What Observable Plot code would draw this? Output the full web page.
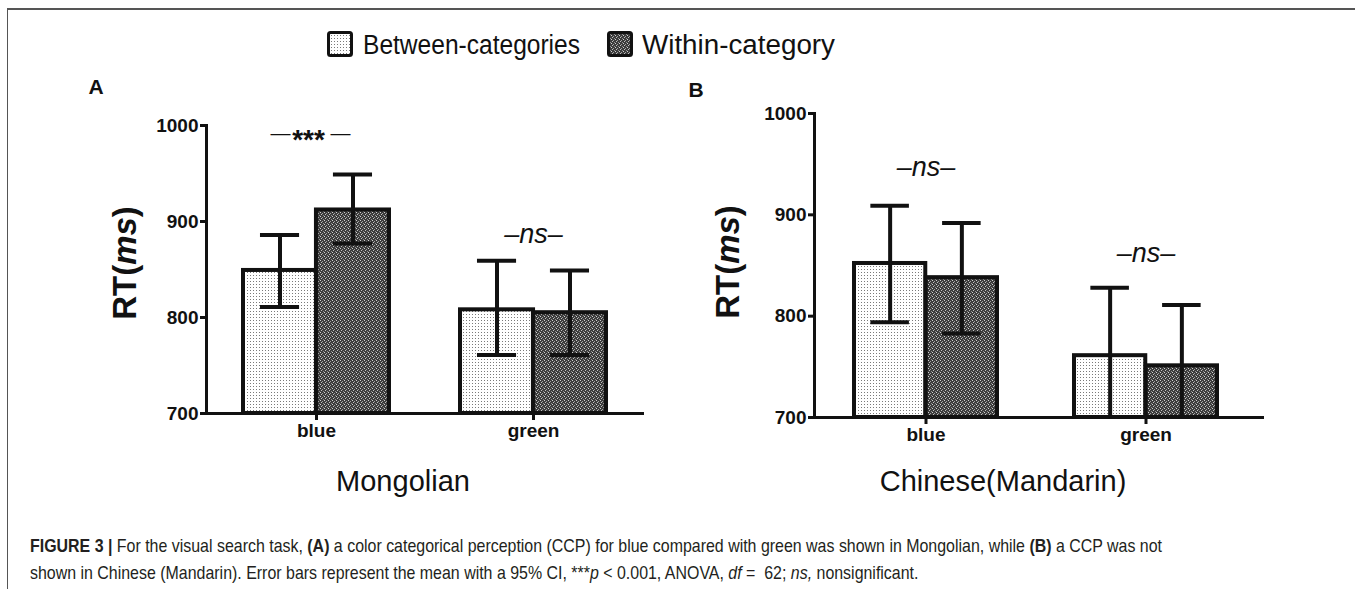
<!DOCTYPE html>
<html>
<head>
<meta charset="utf-8">
<script src="https://cdn.jsdelivr.net/npm/d3@7"></script>
<script src="https://cdn.jsdelivr.net/npm/@observablehq/plot@0.6"></script>
<style>
  html, body { margin: 0; padding: 0; background: #fff; }
  #fig { position: relative; width: 1355px; height: 589px; overflow: hidden;
         font-family: "Liberation Sans", Arial, sans-serif; color: #111; }
  #borderTop { position: absolute; left: 7px; top: 8px; width: 1360px; height: 0; border-top: 2px solid #555; }
  #borderLeft { position: absolute; left: 7px; top: 8px; width: 0; height: 600px; border-left: 1.5px solid #555; }
  .abs { position: absolute; white-space: nowrap; }
  .legtxt { font-size: 27px; line-height: 27px; color: #111; transform-origin: 0 50%; }
  .ytitle { font-size: 33px; font-weight: bold; transform: translate(-50%, -50%) rotate(-90deg); line-height: 33px; }
  .xtitle { font-size: 29px; transform: translate(-50%, -50%); line-height: 29px; }
  .letter { font-size: 21px; font-weight: bold; transform: translate(-50%, -50%); line-height: 21px; }
  .cap { font-size: 18.5px; line-height: 18.5px; color: #231f20; transform-origin: 0 50%; }
  .plotbox { position: absolute; top: 100px; }
</style>
</head>
<body>
<div id="fig">
  <svg width="0" height="0" style="position:absolute">
    <defs>
      <pattern id="pBetween" width="3" height="3" patternUnits="userSpaceOnUse">
        <rect width="3" height="3" fill="#ffffff"/>
        <rect x="1" y="1" width="1" height="1" fill="#7a7a7a"/>
      </pattern>
      <pattern id="pWithin" width="4" height="4" patternUnits="userSpaceOnUse">
        <rect width="4" height="4" fill="#3c3c3c"/>
        <rect x="0" y="0" width="1" height="1" fill="#d0d0d0"/>
        <rect x="2" y="1" width="1" height="1" fill="#a0a0a0"/>
        <rect x="1" y="2" width="1" height="1" fill="#c0c0c0"/>
        <rect x="3" y="3" width="1" height="1" fill="#909090"/>
      </pattern>
    </defs>
  </svg>
  <div id="borderTop"></div>
  <div id="borderLeft"></div>
  <div id="legend"></div>
  <div id="plotA" class="plotbox" style="left:0px"></div>
  <div id="plotB" class="plotbox" style="left:680px"></div>
  <div id="labels"></div>
  <div id="caption"></div>
</div>
<script>
// ---------- data ----------
const categories = ["blue", "green"];
const series = ["Between-categories", "Within-category"];
const yTicks = [700, 800, 900, 1000];

// Panel A: Mongolian
const aBetweenMean = [849, 808];
const aBetweenLow  = [811, 761];
const aBetweenHigh = [886, 859];
const aWithinMean  = [912, 805];
const aWithinLow   = [877, 761];
const aWithinHigh  = [949, 849];
const aSig  = ["***", "ns"];
const aSigY = [992, 887];

// Panel B: Chinese (Mandarin)
const bBetweenMean = [852, 761];
const bBetweenLow  = [794, 694];
const bBetweenHigh = [909, 828];
const bWithinMean  = [838, 751];
const bWithinLow   = [783, 691];
const bWithinHigh  = [892, 811];
const bSig  = ["ns", "ns"];
const bSigY = [947, 862];

const panelLetters = ["A", "B"];
const panelTitles = ["Mongolian", "Chinese(Mandarin)"];
const captionLines = [
  '<b>FIGURE 3 |</b> For the visual search task, <b>(A)</b> a color categorical perception (CCP) for blue compared with green was shown in Mongolian, while <b>(B)</b> a CCP was not',
  'shown in Chinese (Mandarin). Error bars represent the mean with a 95% CI, ***<i>p</i> &lt; 0.001, ANOVA, <i>df</i> =&nbsp; 62; <i>ns,</i> nonsignificant.'
];

// ---------- panels ----------
function panel(o) {
  const bw = d3.scaleBand().domain(categories).range([o.ml, o.w - o.mr])
    .paddingInner(o.pi).paddingOuter(o.po).align(o.al).bandwidth();
  const B = categories.map((c, i) => ({cat: c, m: o.bm[i], lo: o.bl[i], hi: o.bh[i]}));
  const W = categories.map((c, i) => ({cat: c, m: o.wm[i], lo: o.wl[i], hi: o.wh[i]}));
  const sig = categories.map((c, i) => ({cat: c, label: o.sig[i], y: o.sigY[i]}));
  const stars = sig.filter(d => d.label !== "ns");
  const half = 19.5;
  const ink = "#111";
  const sw = 4;
  return Plot.plot({
    width: o.w, height: o.h,
    marginLeft: o.ml, marginRight: o.mr, marginTop: o.mt, marginBottom: o.mb,
    x: {domain: categories, paddingInner: o.pi, paddingOuter: o.po, align: o.al},
    y: {domain: [700, 1000]},
    style: {fontFamily: '"Liberation Sans", Arial, sans-serif', color: ink, background: "transparent", overflow: "visible"},
    marks: [
      Plot.barY(B, {x: "cat", y1: 700, y2: "m", insetRight: bw / 2, fill: "url(#pBetween)", stroke: ink, strokeWidth: sw}),
      Plot.barY(W, {x: "cat", y1: 700, y2: "m", insetLeft: bw / 2, fill: "url(#pWithin)", stroke: ink, strokeWidth: sw}),
      Plot.ruleX(B, {x: "cat", y1: "lo", y2: "hi", dx: -bw / 4, stroke: ink, strokeWidth: sw, clip: true}),
      Plot.ruleX(W, {x: "cat", y1: "lo", y2: "hi", dx: bw / 4, stroke: ink, strokeWidth: sw, clip: true}),
      Plot.tickY(B, {x: "cat", y: "hi", insetLeft: bw / 4 - half, insetRight: 3 * bw / 4 - half, stroke: ink, strokeWidth: sw, clip: true}),
      Plot.tickY(B, {x: "cat", y: "lo", insetLeft: bw / 4 - half, insetRight: 3 * bw / 4 - half, stroke: ink, strokeWidth: sw, clip: true}),
      Plot.tickY(W, {x: "cat", y: "hi", insetLeft: 3 * bw / 4 - half, insetRight: bw / 4 - half, stroke: ink, strokeWidth: sw, clip: true}),
      Plot.tickY(W, {x: "cat", y: "lo", insetLeft: 3 * bw / 4 - half, insetRight: bw / 4 - half, stroke: ink, strokeWidth: sw, clip: true}),
      Plot.frame({anchor: "left", stroke: ink, strokeWidth: 3}),
      Plot.frame({anchor: "bottom", stroke: ink, strokeWidth: 3}),
      Plot.axisY({ticks: yTicks, tickSize: 6, tickPadding: 2, stroke: ink, strokeWidth: 3, fill: ink, fontSize: 19, fontWeight: "bold", label: null, tickFormat: d => String(d)}),
      Plot.axisX({tickSize: 7, tickPadding: 3, stroke: ink, strokeWidth: 3, fill: ink, fontSize: 19, fontWeight: "bold", label: null}),
      Plot.text(sig.filter(d => d.label === "ns"), {x: "cat", y: "y", text: d => "\u2013" + d.label + "\u2013", fontSize: 27, fontStyle: "italic", fill: ink}),
      Plot.text(stars, {x: "cat", y: "y", text: "label", fontSize: 28, fontWeight: "bold", dx: -8, dy: 7, fill: ink}),
      Plot.text(stars, {x: "cat", y: "y", text: () => "\u2014", fontSize: 20, dx: -36, fill: ink}),
      Plot.text(stars, {x: "cat", y: "y", text: () => "\u2014", fontSize: 20, dx: 24, fill: ink})
    ]
  });
}

document.getElementById("plotA").appendChild(panel({
  w: 680, h: 360, ml: 206, mr: 38, mt: 25, mb: 47, pi: 0.328, po: 0.168, al: 0.5,
  bm: aBetweenMean, bl: aBetweenLow, bh: aBetweenHigh,
  wm: aWithinMean, wl: aWithinLow, wh: aWithinHigh, sig: aSig, sigY: aSigY
}));
document.getElementById("plotB").appendChild(panel({
  w: 675, h: 360, ml: 134, mr: 93, mt: 13, mb: 43, pi: 0.35, po: 0.19, al: 0.47,
  bm: bBetweenMean, bl: bBetweenLow, bh: bBetweenHigh,
  wm: bWithinMean, wl: bWithinLow, wh: bWithinHigh, sig: bSig, sigY: bSigY
}));

// ---------- legend ----------
const legend = document.getElementById("legend");
const legendPos = [{box: 327, txt: 363, w: 217}, {box: 607, txt: 642, w: 193}];
const legendFill = ["url(#pBetween)", "url(#pWithin)"];
series.forEach((s, i) => {
  const b = document.createElementNS("http://www.w3.org/2000/svg", "svg");
  b.setAttribute("width", 26); b.setAttribute("height", 26);
  b.style.position = "absolute"; b.style.left = legendPos[i].box + "px"; b.style.top = "31px";
  b.innerHTML = `<rect x="1.5" y="1.5" width="23" height="23" rx="2" fill="${legendFill[i]}" stroke="#111" stroke-width="3"/>`;
  legend.appendChild(b);
  const t = document.createElement("span");
  t.className = "abs legtxt";
  t.style.left = legendPos[i].txt + "px"; t.style.top = (45 - 13.5) + "px";
  t.textContent = s;
  legend.appendChild(t);
  const tw = t.getBoundingClientRect().width;
  t.style.transform = `scaleX(${legendPos[i].w / tw})`;
});

// ---------- labels ----------
const labels = document.getElementById("labels");
function addLabel(cls, x, y, html) {
  const d = document.createElement("div");
  d.className = "abs " + cls;
  d.style.left = x + "px"; d.style.top = y + "px";
  d.innerHTML = html;
  labels.appendChild(d);
}
addLabel("letter", 96, 86, panelLetters[0]);
addLabel("letter", 696, 89, panelLetters[1]);
addLabel("ytitle", 124, 263, 'RT(<i>ms</i>)');
addLabel("ytitle", 727, 262, 'RT(<i>ms</i>)');
addLabel("xtitle", 403, 481, panelTitles[0]);
addLabel("xtitle", 1003, 481, panelTitles[1]);

// ---------- caption ----------
const cap = document.getElementById("caption");
const capY = [546, 573];
const spans = captionLines.map((html, i) => {
  const s = document.createElement("span");
  s.className = "abs cap";
  s.style.left = "30px"; s.style.top = (capY[i] - 9.25) + "px";
  s.innerHTML = html;
  cap.appendChild(s);
  return s;
});
const w1 = spans[0].getBoundingClientRect().width;
const k = 1132 / w1;
spans.forEach(s => s.style.transform = `scaleX(${k})`);
</script>
</body>
</html>
